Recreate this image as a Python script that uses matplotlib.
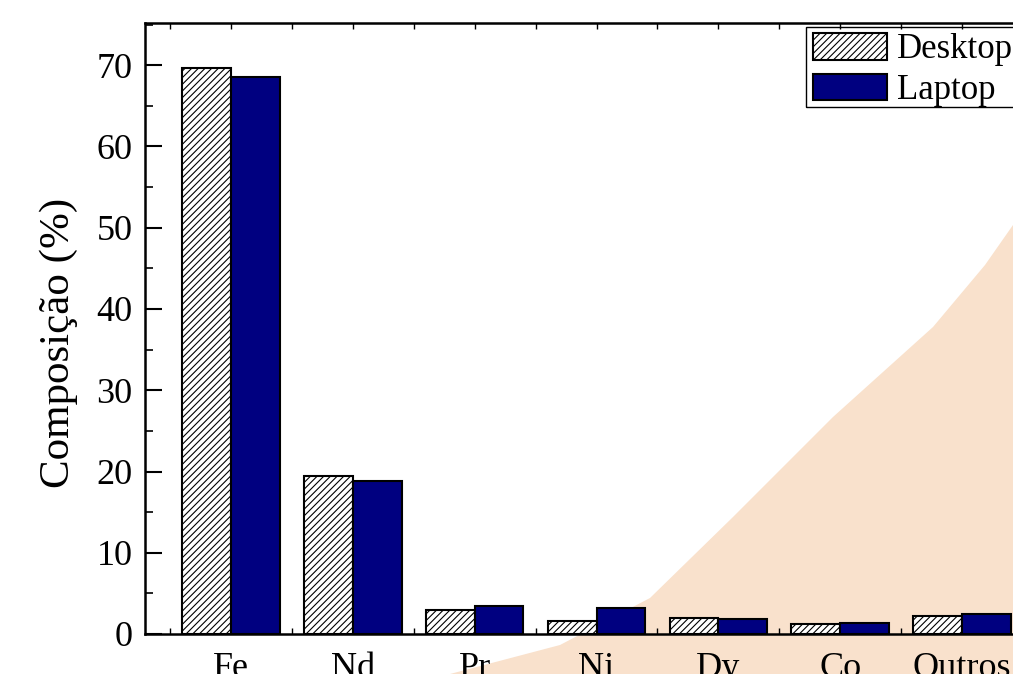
import matplotlib
matplotlib.use("Agg")
import matplotlib.pyplot as plt
import numpy as np
from matplotlib.patches import Polygon, Rectangle
from matplotlib.ticker import MultipleLocator, FixedLocator

categories = ["Fe", "Nd", "Pr", "Ni", "Dy", "Co", "Outros"]
desktop = [69.7, 19.4, 2.9, 1.65, 2.0, 1.27, 2.26]
laptop = [68.5, 18.8, 3.5, 3.2, 1.9, 1.3, 2.5]
yticks = [0, 10, 20, 30, 40, 50, 60, 70]

plt.rcParams['font.family'] = ['Liberation Serif', 'DejaVu Serif']
plt.rcParams['hatch.linewidth'] = 0.8

W, H = 1013, 674
fig = plt.figure(figsize=(W / 100, H / 100), dpi=100)

# background watermark shape (decoration)
pts_px = [(450, 674), (560, 645), (650, 598), (733, 517), (833, 417), (933, 327), (985, 265), (1013, 225), (1013, 674)]
pts = [(x / W, 1 - y / H) for x, y in pts_px]
fig.patches.append(Polygon(pts, closed=True, transform=fig.transFigure,
                           facecolor="#F9E1CC", edgecolor="none", zorder=-5))

left, right, top, bottom = 145, 1048, 23, 634
ax = fig.add_axes([left / W, 1 - bottom / H, (right - left) / W, (bottom - top) / H])
ax.set_zorder(1)
ax.patch.set_alpha(0)

x = np.arange(len(categories))
w = 0.4
ax.bar(x - w / 2, desktop, w, facecolor="white", edgecolor="black", hatch="/////", linewidth=1.5, label="Desktop", zorder=2)
ax.bar(x + w / 2, laptop, w, facecolor="#000080", edgecolor="black", linewidth=1.5, label="Laptop", zorder=2)

ax.set_xlim(-0.706, len(categories) - 1 + 0.706)
ax.set_ylim(0, 75.2)
ax.set_xticks(x)
ax.set_xticklabels(categories)
ax.xaxis.set_minor_locator(FixedLocator(np.arange(-0.5, len(categories), 1)))
ax.set_yticks(yticks)
ax.yaxis.set_minor_locator(MultipleLocator(5))

ax.tick_params(axis='both', which='both', direction='in', top=True, right=False, labelsize=26)
ax.tick_params(axis='y', which='major', length=12, width=1.5, pad=9)
ax.tick_params(axis='y', which='minor', length=6, width=1.2)
ax.tick_params(axis='x', which='major', length=4, width=1.0, pad=13)
ax.tick_params(axis='x', which='minor', length=4, width=1.0)

for s in ax.spines.values():
    s.set_linewidth(1.8)

ax.set_ylabel("Composição (%)", fontsize=31)
ax.yaxis.set_label_coords(-0.074, 0.476)

leg = ax.legend(loc="upper left", bbox_to_anchor=(806 / W, 1 - 26 / H), bbox_transform=fig.transFigure,
                fontsize=25, frameon=False,
                handlelength=2.13, handleheight=0.8, handletextpad=0.3, borderpad=0.2,
                labelspacing=0.22, borderaxespad=0)
# legend frame
fig.patches.append(Rectangle((806 / W, 1 - 107 / H), (1030 - 806) / W, (107 - 27) / H,
                             transform=fig.transFigure, facecolor="none", edgecolor="black",
                             linewidth=1.0, zorder=3))

fig.savefig("out.png", dpi=100)
